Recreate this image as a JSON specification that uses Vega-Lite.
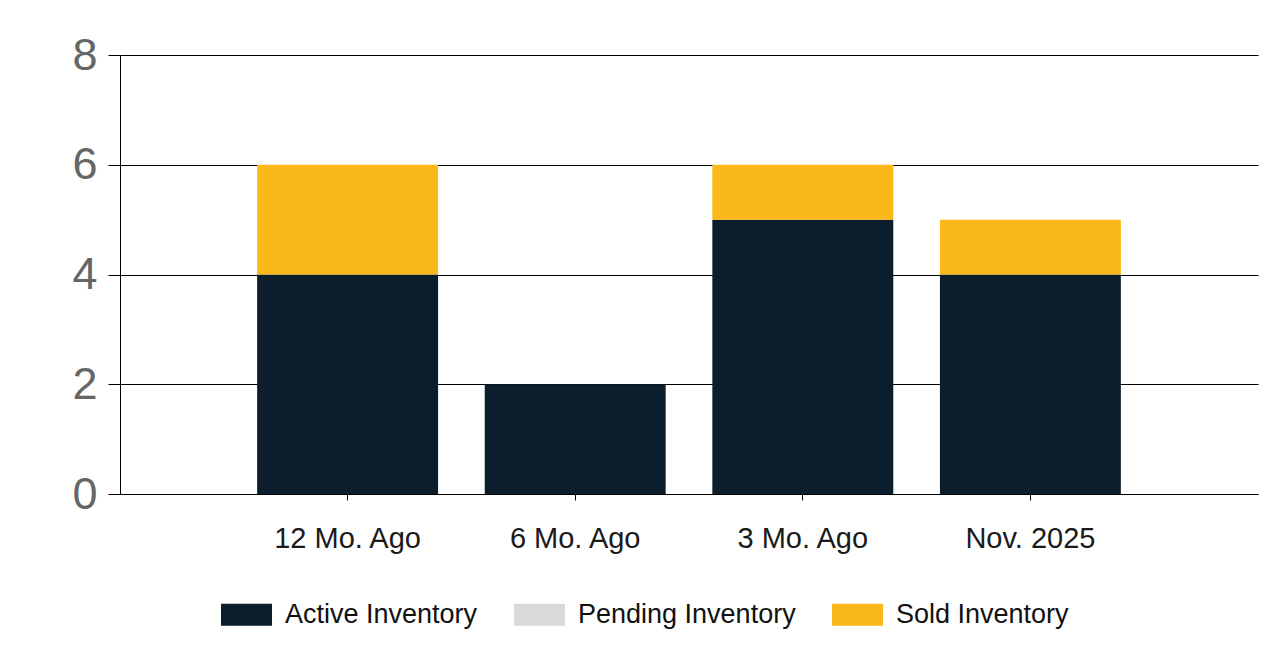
{
  "$schema": "https://vega.github.io/schema/vega-lite/v6.json",
  "width": 1138,
  "height": 439,
  "autosize": {"type": "none"},
  "padding": {"left": 120, "top": 55, "right": 3, "bottom": 169},
  "background": "white",
  "config": {
    "view": {"stroke": null},
    "font": "Liberation Sans"
  },
  "data": {
    "values": [
      {"period": "12 Mo. Ago", "type": "Active Inventory", "count": 4},
      {"period": "12 Mo. Ago", "type": "Pending Inventory", "count": 0},
      {"period": "12 Mo. Ago", "type": "Sold Inventory", "count": 2},
      {"period": "6 Mo. Ago", "type": "Active Inventory", "count": 2},
      {"period": "6 Mo. Ago", "type": "Pending Inventory", "count": 0},
      {"period": "6 Mo. Ago", "type": "Sold Inventory", "count": 0},
      {"period": "3 Mo. Ago", "type": "Active Inventory", "count": 5},
      {"period": "3 Mo. Ago", "type": "Pending Inventory", "count": 0},
      {"period": "3 Mo. Ago", "type": "Sold Inventory", "count": 1},
      {"period": "Nov. 2025", "type": "Active Inventory", "count": 4},
      {"period": "Nov. 2025", "type": "Pending Inventory", "count": 0},
      {"period": "Nov. 2025", "type": "Sold Inventory", "count": 1}
    ]
  },
  "mark": {"type": "bar"},
  "encoding": {
    "x": {
      "field": "period",
      "type": "nominal",
      "sort": ["12 Mo. Ago", "6 Mo. Ago", "3 Mo. Ago", "Nov. 2025"],
      "scale": {"paddingInner": 0.205, "paddingOuter": 0.6025},
      "axis": {
        "title": null,
        "labelAngle": 0,
        "labelFontSize": 29,
        "labelColor": "#1a1a1a",
        "labelPadding": 24,
        "tickSize": 6,
        "tickColor": "#000000",
        "domainColor": "#000000",
        "tickWidth": 1,
        "domainWidth": 1
      }
    },
    "y": {
      "field": "count",
      "type": "quantitative",
      "stack": "zero",
      "scale": {"domain": [0, 8], "nice": false},
      "axis": {
        "title": null,
        "values": [0, 2, 4, 6, 8],
        "labelFontSize": 45,
        "labelColor": "#666666",
        "labelPadding": 11,
        "tickSize": 12,
        "tickColor": "#000000",
        "domainColor": "#000000",
        "grid": true,
        "gridColor": "#000000",
        "gridWidth": 1,
        "gridOpacity": 1
      }
    },
    "order": {"field": "type", "sort": "ascending"},
    "color": {
      "field": "type",
      "type": "nominal",
      "scale": {
        "domain": ["Active Inventory", "Pending Inventory", "Sold Inventory"],
        "range": ["#0c1e2b", "#d9d9d9", "#fbb81b"]
      },
      "legend": {
        "title": null,
        "orient": "none",
        "direction": "horizontal",
        "legendX": 101,
        "legendY": 534,
        "padding": 0,
        "labelFontSize": 27,
        "labelColor": "#111111",
        "labelOffset": 13,
        "columnPadding": 36,
        "symbolType": "M-1,-0.43L1,-0.43L1,0.43L-1,0.43Z",
        "symbolSize": 2601,
        "symbolStrokeWidth": 0,
        "symbolOpacity": 1,
        "labelLimit": 400
      }
    }
  }
}
